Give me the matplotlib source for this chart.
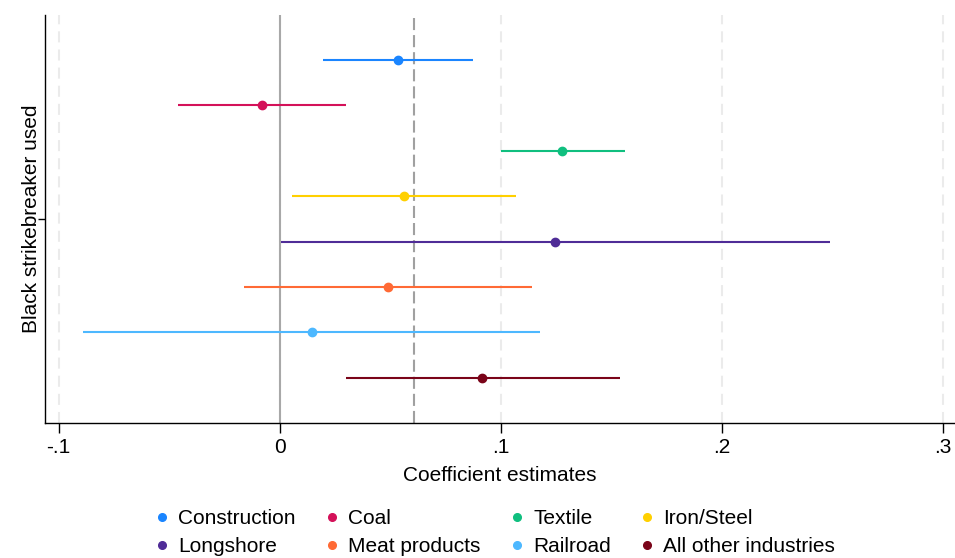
import matplotlib.pyplot as plt
from matplotlib.lines import Line2D

plt.rcParams['font.family'] = ['Liberation Sans', 'DejaVu Sans']

industries = ["Construction", "Coal", "Textile", "Iron/Steel",
              "Longshore", "Meat products", "Railroad", "All other industries"]
estimates = [0.0535, -0.0080, 0.1278, 0.0561, 0.1246, 0.0488, 0.0146, 0.0916]
ci_low = [0.0196, -0.0460, 0.0998, 0.0054, 0.0003, -0.0163, -0.0889, 0.0301]
ci_high = [0.0874, 0.0298, 0.1560, 0.1070, 0.2487, 0.1138, 0.1178, 0.1537]
colors = ["#1a85ff", "#d41159", "#10bf7f", "#ffd000",
          "#4f2c97", "#ff6a35", "#4db8ff", "#7a0419"]
mean_effect = 0.0608

xticks = [-0.1, 0, 0.1, 0.2, 0.3]
xticklabels = ["-.1", "0", ".1", ".2", ".3"]

fig = plt.figure(figsize=(9.55, 5.58), dpi=100)
ax = fig.add_axes([45 / 955, 1 - 423 / 558, 910 / 955, 408 / 558])

for x in xticks:
    ax.axvline(x, color="#ebebeb", lw=1.5, ls=(0, (5.3, 3.4)), zorder=0)
ax.axvline(0, color="#a8a8a8", lw=1.5, zorder=1)
ax.axvline(mean_effect, color="#a0a0a0", lw=1.5, ls=(0, (5.8, 2.4)), zorder=1)

for i, (est, lo, hi, c) in enumerate(zip(estimates, ci_low, ci_high, colors)):
    ax.plot([lo, hi], [i, i], color=c, lw=1.5, solid_capstyle="butt", zorder=2)
    ax.plot(est, i, "o", color=c, ms=6, zorder=3)

ax.set_xlim(-0.1062, 0.3053)
ax.set_ylim(7.995, -0.99)
ax.set_xticks(xticks)
ax.set_xticklabels(xticklabels)
ax.set_yticks([3.5])
ax.set_yticklabels([""])
ax.tick_params(axis="x", length=7, width=1, labelsize=15, pad=4)
ax.tick_params(axis="y", length=5, width=1)
ax.set_ylabel("Black strikebreaker used", fontsize=15)
ax.yaxis.set_label_coords(-0.004, 0.5)
ax.set_xlabel("Coefficient estimates", fontsize=15, labelpad=6)

for side in ["top", "right"]:
    ax.spines[side].set_visible(False)
for side in ["left", "bottom"]:
    ax.spines[side].set_linewidth(1)

# legend is filled column by column, so order entries to read row-wise
handles = [Line2D([], [], ls="none", marker="o", ms=5.5, color=c) for c in colors]
order = [0, 4, 1, 5, 2, 6, 3, 7]
fig.legend([handles[k] for k in order], [industries[k] for k in order],
           loc="center", bbox_to_anchor=(496 / 955, 1 - 532.5 / 558),
           ncol=4, frameon=False, fontsize=15, handlelength=0.5,
           handletextpad=0.52, columnspacing=1.5, labelspacing=0.45,
           borderpad=0)

fig.savefig("out.png", dpi=100)
